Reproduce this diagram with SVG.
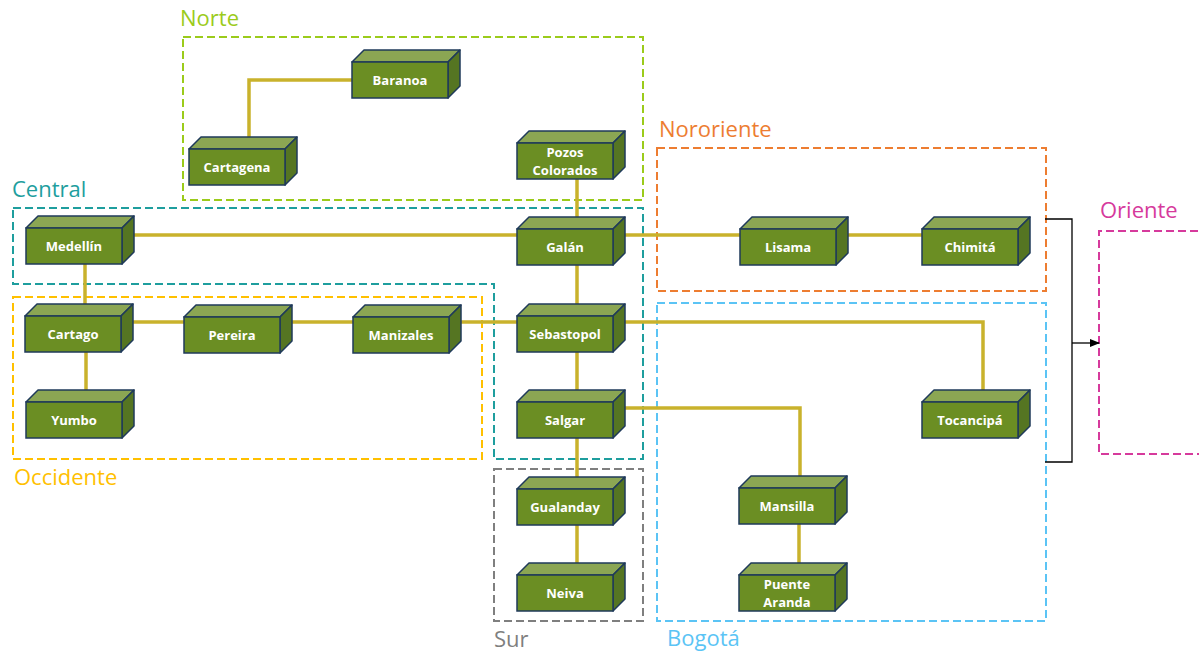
<svg xmlns="http://www.w3.org/2000/svg" width="1199" height="653" viewBox="0 0 1199 653">
<defs>
<style>
.grp{fill:none;stroke-width:2;stroke-dasharray:8 4}
.glabel{font-family:"Open Sans","Noto Sans",sans-serif;font-size:22px}
.conn{fill:none;stroke:#C9B22C;stroke-width:3.5}
.front{fill:#6B8E23;stroke:#1F3A5A;stroke-width:1.5}
.top{fill:#8BA653;stroke:#1F3A5A;stroke-width:1.5;stroke-linejoin:round}
.side{fill:#557522;stroke:#1F3A5A;stroke-width:1.5;stroke-linejoin:round}
.lbl{font-family:"Open Sans","Noto Sans",sans-serif;font-size:13px;font-weight:bold;fill:#FFFFFF;text-anchor:middle}
.blk{fill:none;stroke:#000;stroke-width:1.3}
</style>
<marker id="arr" markerWidth="10" markerHeight="8" refX="9" refY="4" orient="auto" markerUnits="userSpaceOnUse">
<path d="M0,0 L10,4 L0,8 Z" fill="#000"/>
</marker>
<g id="box">
<polygon class="top" points="0,0 12,-12 108,-12 96,0"/>
<polygon class="side" points="96,0 108,-12 108,24 96,36"/>
<rect class="front" x="0" y="0" width="96" height="36"/>
</g>
</defs>
<rect width="1199" height="653" fill="#FFFFFF"/>

<g id="groups">
<rect class="grp" x="183" y="37" width="460" height="163" stroke="#9BCB1B"/>
<text class="glabel" x="180" y="26" fill="#9BCB1B">Norte</text>
<path class="grp" d="M13,208 H643 V459 H494 V284 H13 Z" stroke="#1E9E9E"/>
<text class="glabel" x="12" y="197" fill="#1E9E9E">Central</text>
<rect class="grp" x="13" y="297" width="469" height="162" stroke="#FFC000"/>
<text class="glabel" x="14" y="485" fill="#FFC000">Occidente</text>
<rect class="grp" x="657" y="148" width="389" height="143" stroke="#ED7D31"/>
<text class="glabel" x="659" y="137" fill="#ED7D31">Nororiente</text>
<rect class="grp" x="657" y="303" width="389" height="318" stroke="#5BC4F5"/>
<text class="glabel" x="667" y="646" fill="#5BC4F5">Bogotá</text>
<rect class="grp" x="494" y="469" width="149" height="152" stroke="#7F7F7F"/>
<text class="glabel" x="494" y="647" fill="#7F7F7F">Sur</text>
<path class="grp" d="M1210,231 H1099 V454 H1210" stroke="#D63A9C"/>
<text class="glabel" x="1100" y="218" fill="#D63A9C">Oriente</text>
</g>

<g id="connectors">
<path class="conn" d="M352,80 H249 V137"/>
<path class="conn" d="M577,179 V217"/>
<path class="conn" d="M122,235 H922"/>
<path class="conn" d="M85,264 V304"/>
<path class="conn" d="M86,352 V390"/>
<path class="conn" d="M121,322 H983 V390"/>
<path class="conn" d="M577,265 V563"/>
<path class="conn" d="M613,408 H800 V476"/>
<path class="conn" d="M799,524 V563"/>
<path class="blk" d="M1045,219 H1072 V462 H1045"/>
<path class="blk" d="M1072,343 H1099" marker-end="url(#arr)"/>
</g>

<g id="baranoa"><use href="#box" x="352" y="62"/><text class="lbl" x="400" y="85">Baranoa</text></g>
<g id="cartagena"><use href="#box" x="189" y="149"/><text class="lbl" x="237" y="172">Cartagena</text></g>
<g id="pozos-colorados"><use href="#box" x="517" y="143"/><text class="lbl" x="565" y="157">Pozos</text><text class="lbl" x="565" y="175">Colorados</text></g>
<g id="medellin"><use href="#box" x="26" y="228"/><text class="lbl" x="74" y="251">Medellín</text></g>
<g id="galan"><use href="#box" x="517" y="229"/><text class="lbl" x="565" y="252">Galán</text></g>
<g id="lisama"><use href="#box" x="740" y="229"/><text class="lbl" x="788" y="252">Lisama</text></g>
<g id="chimita"><use href="#box" x="922" y="229"/><text class="lbl" x="970" y="252">Chimitá</text></g>
<g id="cartago"><use href="#box" x="25" y="316"/><text class="lbl" x="73" y="339">Cartago</text></g>
<g id="pereira"><use href="#box" x="184" y="317"/><text class="lbl" x="232" y="340">Pereira</text></g>
<g id="manizales"><use href="#box" x="353" y="317"/><text class="lbl" x="401" y="340">Manizales</text></g>
<g id="sebastopol"><use href="#box" x="517" y="316"/><text class="lbl" x="565" y="339">Sebastopol</text></g>
<g id="yumbo"><use href="#box" x="26" y="402"/><text class="lbl" x="74" y="425">Yumbo</text></g>
<g id="salgar"><use href="#box" x="517" y="402"/><text class="lbl" x="565" y="425">Salgar</text></g>
<g id="tocancipa"><use href="#box" x="922" y="402"/><text class="lbl" x="970" y="425">Tocancipá</text></g>
<g id="gualanday"><use href="#box" x="517" y="489"/><text class="lbl" x="565" y="512">Gualanday</text></g>
<g id="neiva"><use href="#box" x="517" y="575"/><text class="lbl" x="565" y="598">Neiva</text></g>
<g id="mansilla"><use href="#box" x="739" y="488"/><text class="lbl" x="787" y="511">Mansilla</text></g>
<g id="puente-aranda"><use href="#box" x="739" y="575"/><text class="lbl" x="787" y="589">Puente</text><text class="lbl" x="787" y="607">Aranda</text></g>
</svg>
